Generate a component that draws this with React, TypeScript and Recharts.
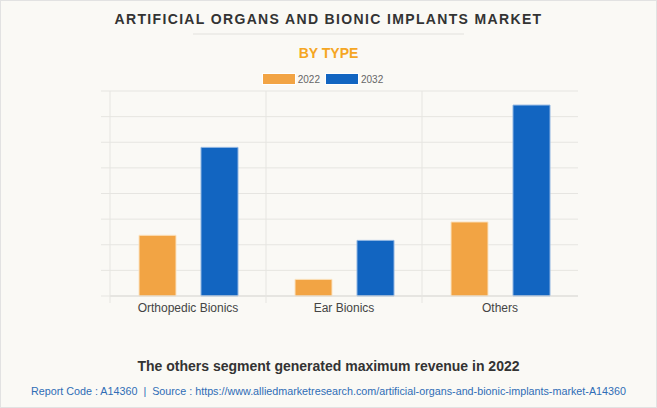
import { BarChart, Bar, XAxis, YAxis, CartesianGrid } from 'recharts'

const categories = ['Orthopedic Bionics', 'Ear Bionics', 'Others']
const values2022 = [2.37, 0.65, 2.89]
const values2032 = [5.8, 2.17, 7.45]
const yTicks = [0, 1, 2, 3, 4, 5, 6, 7, 8]
const seriesNames = ['2022', '2032']

const ORANGE = '#f2a444'
const BLUE = '#1265c1'
const GRID = '#e6e5e1'
const FONT = 'Arial, "Liberation Sans", sans-serif'

const PLOT_TOP = 91
const PLOT_BOTTOM = 296

const data = categories.map((name, i) => ({ name, y2022: values2022[i], y2032: values2032[i] }))

function CategoryTick(props: any) {
  const { x, payload } = props
  const left = x - (payload.offset ?? 0)
  return (
    <g>
      <line x1={left} x2={left} y1={PLOT_TOP} y2={PLOT_BOTTOM + 7} stroke={GRID} strokeWidth={1} />
      <text x={x} y={PLOT_BOTTOM + 12} dy="0.355em" textAnchor="middle" fontSize={12} fill="#444" fontFamily={FONT}>
        {payload.value}
      </text>
    </g>
  )
}

const EmptyTick = () => <g />

export default function App() {
  return (
    <div style={{ position: 'absolute', left: 0, top: 0, width: 655, height: 406, background: '#faf9f5', border: '1px solid #e2e2e2', fontFamily: FONT }}>
      <div style={{ position: 'absolute', top: 10, left: 0, width: 655, textAlign: 'center', fontSize: 14, fontWeight: 'bold', letterSpacing: 1.35, color: '#333' }}>
        ARTIFICIAL ORGANS AND BIONIC IMPLANTS MARKET
      </div>
      <div style={{ position: 'absolute', top: 32, left: 192, width: 271, height: 2, background: '#eeede9' }} />
      <div style={{ position: 'absolute', top: 44, left: 0, width: 655, textAlign: 'center', fontSize: 14, fontWeight: 'bold', color: '#f5a623' }}>
        BY TYPE
      </div>
      <div style={{ position: 'absolute', top: 72, left: -6, width: 655, display: 'flex', justifyContent: 'center', alignItems: 'center', fontSize: 10, color: '#666' }}>
        {seriesNames.map((s, i) => (
          <div key={s} style={{ display: 'flex', alignItems: 'center', marginRight: i === 0 ? 5 : 0 }}>
            <div style={{ width: 32, height: 10, background: i === 0 ? ORANGE : BLUE, border: '1px solid #fff', marginRight: 2 }} />
            <span>{s}</span>
          </div>
        ))}
      </div>
      <div style={{ position: 'absolute', left: -1, top: -1 }}>
        <BarChart width={657} height={326} data={data} margin={{ top: PLOT_TOP, right: 79, left: 50, bottom: 0 }} barGap={25} barCategoryGap={27}>
          <CartesianGrid vertical={false} stroke={GRID} horizontalValues={yTicks} />
          <XAxis dataKey="name" height={30} axisLine={{ stroke: '#dcdbd7' }} tickLine={false} tick={<CategoryTick />} interval={0} />
          <YAxis width={60} domain={[0, 8]} ticks={yTicks} tick={<EmptyTick />} tickSize={9} tickLine={{ stroke: GRID }} axisLine={false} interval={0} />
          <Bar dataKey="y2022" fill={ORANGE} stroke="#fbe3c1" strokeWidth={1} barSize={37} isAnimationActive={false} />
          <Bar dataKey="y2032" fill={BLUE} stroke="#8fb5e2" strokeWidth={1} barSize={37} isAnimationActive={false} />
        </BarChart>
      </div>
      <div style={{ position: 'absolute', top: 357, left: 0, width: 655, textAlign: 'center', fontSize: 14, fontWeight: 'bold', color: '#333' }}>
        The others segment generated maximum revenue in 2022
      </div>
      <div style={{ position: 'absolute', top: 384, left: 0, width: 655, textAlign: 'center', fontSize: 10.75, color: '#2f6db5' }}>
        Report Code : A14360&nbsp; |&nbsp; Source : https://www.alliedmarketresearch.com/artificial-organs-and-bionic-implants-market-A14360
      </div>
    </div>
  )
}
